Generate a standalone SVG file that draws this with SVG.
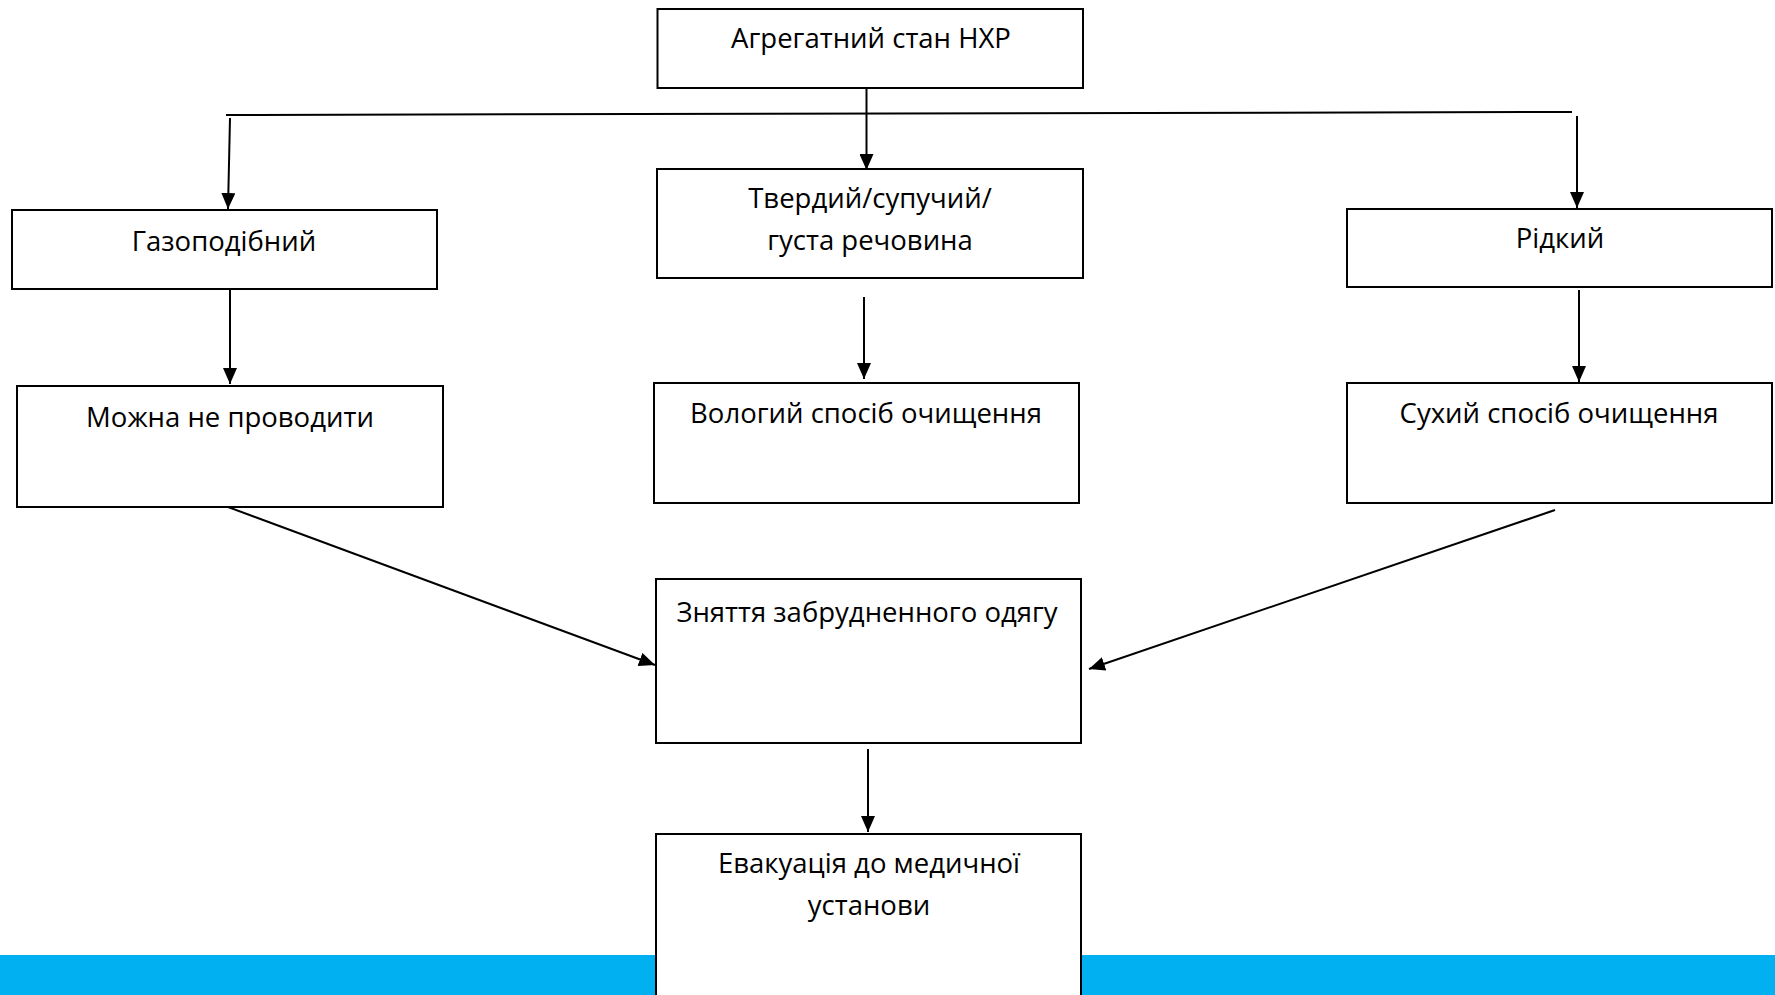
<svg xmlns="http://www.w3.org/2000/svg" width="1775" height="995" viewBox="0 0 1775 995">
<style>
.box{fill:#fff;stroke:#000;stroke-width:2}
.lbl{font-family:"Open Sans","Noto Sans","DejaVu Sans",sans-serif;font-size:27.5px;fill:#000;text-anchor:middle}
.con{stroke:#000;stroke-width:2;fill:none}
</style>
<defs>
<marker id="ah" markerUnits="userSpaceOnUse" markerWidth="16" markerHeight="14" refX="16" refY="7" orient="auto">
<path d="M0,0 L16,7 L0,14 z" fill="#000"/>
</marker>
</defs>
<rect x="0" y="955" width="1775" height="40" fill="#00B0F0"/>
<g id="connectors">
<line class="con" x1="226" y1="115" x2="1572" y2="112" stroke-width="1.7"/>
<line class="con" x1="230" y1="118" x2="228" y2="209" marker-end="url(#ah)"/>
<line class="con" x1="866.5" y1="88" x2="866.5" y2="170" marker-end="url(#ah)"/>
<line class="con" x1="1577" y1="116" x2="1577" y2="208" marker-end="url(#ah)"/>
<line class="con" x1="230" y1="289" x2="230" y2="384" marker-end="url(#ah)"/>
<line class="con" x1="864" y1="297" x2="864" y2="379" marker-end="url(#ah)"/>
<line class="con" x1="1579" y1="290" x2="1579" y2="382" marker-end="url(#ah)"/>
<line class="con" x1="228" y1="507" x2="655" y2="665" marker-end="url(#ah)"/>
<line class="con" x1="1555" y1="510" x2="1089" y2="669" marker-end="url(#ah)"/>
<line class="con" x1="868" y1="749" x2="868" y2="832" marker-end="url(#ah)"/>
</g>
<g id="n-agr"><rect class="box" x="657.5" y="9" width="425.5" height="79"/><text class="lbl" x="871" y="48">Агрегатний стан НХР</text></g>
<g id="n-gas"><rect class="box" x="12" y="210" width="425" height="79"/><text class="lbl" x="224" y="251">Газоподібний</text></g>
<g id="n-solid"><rect class="box" x="657" y="169" width="426" height="109"/><text class="lbl" x="870" y="208">Твердий/супучий/</text><text class="lbl" x="870" y="250">густа речовина</text></g>
<g id="n-liquid"><rect class="box" x="1347" y="209" width="425" height="78"/><text class="lbl" x="1560" y="248">Рідкий</text></g>
<g id="n-none"><rect class="box" x="17" y="386" width="426" height="121"/><text class="lbl" x="230" y="427">Можна не проводити</text></g>
<g id="n-wet"><rect class="box" x="654" y="383" width="425" height="120"/><text class="lbl" x="866" y="423">Вологий спосіб очищення</text></g>
<g id="n-dry"><rect class="box" x="1347" y="383" width="425" height="120"/><text class="lbl" x="1559" y="423">Сухий спосіб очищення</text></g>
<g id="n-clothes"><rect class="box" x="656" y="579" width="425" height="164"/><text class="lbl" x="867" y="622">Зняття забрудненного одягу</text></g>
<g id="n-evac"><rect class="box" x="656" y="834" width="425" height="200"/><text class="lbl" x="869" y="873">Евакуація до медичної</text><text class="lbl" x="869" y="915">установи</text></g>
</svg>
